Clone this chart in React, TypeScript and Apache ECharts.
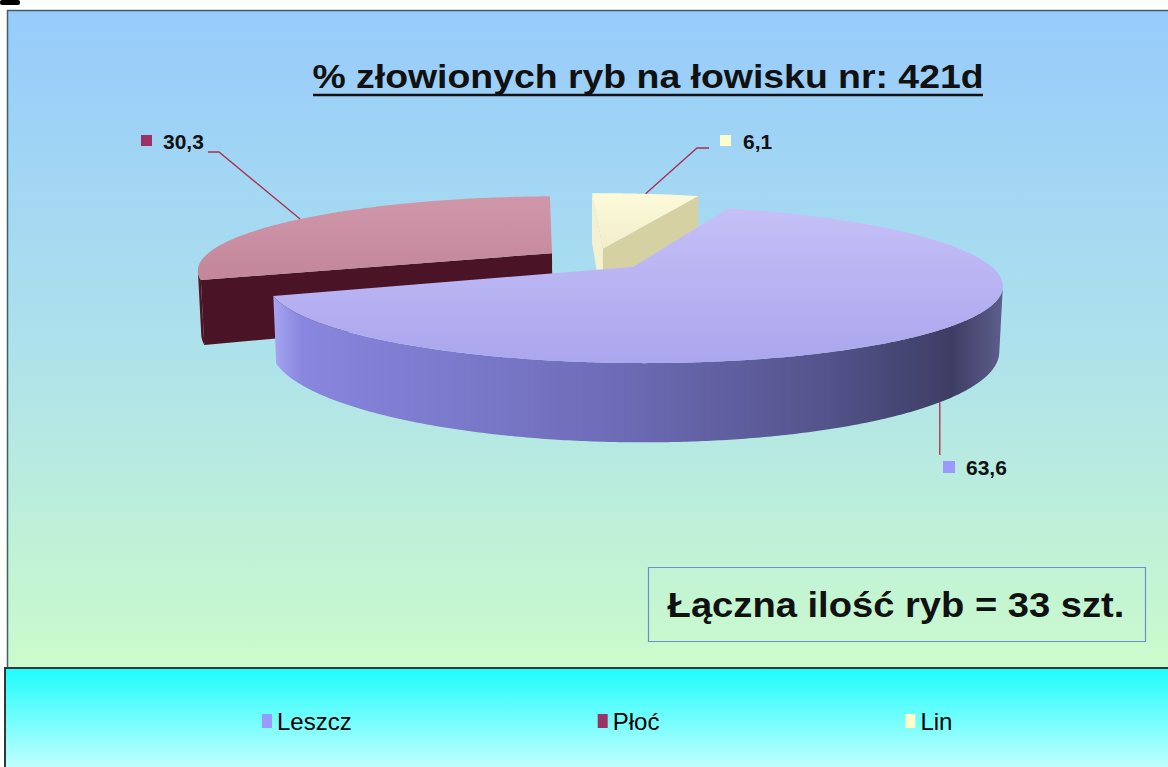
import React, { useEffect, useRef } from "react";
import * as echarts from "echarts";

// ---------- data ----------
const TITLE = "% złowionych ryb na łowisku nr: 421d";
const fishNames = ["Leszcz", "Płoć", "Lin"];
const fishPercent = [63.6, 30.3, 6.1];
const fishTotal = 33;
const totalLabel = `Łączna ilość ryb = ${fishTotal} szt.`;

// ---------- styles ----------
const legendColors = ["#9999FF", "#993366", "#FFFFCC"];
const topColors = [
  ["#C5C0F6", "#ABA6EE"],
  ["#D097AB", "#C3869A"],
  ["#FDFADB", "#F2EECA"],
];
const wallStops: [number, string][][] = [
  [[0, "#A6A4F2"], [0.04, "#8886DE"], [0.45, "#6F6DB9"], [0.75, "#55548D"], [0.93, "#3D3D64"], [1, "#5E5E8C"]],
  [[0, "#5A1A30"], [1, "#46101F"]],
  [[0, "#D9D6AB"], [1, "#CFCB9C"]],
];
// [start cut face, end cut face]
const cutColors = [
  ["#6F6DB9", "#6F6DB9"],
  ["#4A1426", "#4A1426"],
  ["#F4F1D0", "#D5D1A3"],
];
const leaderColor = "#A8304E";

// 3-D camera & geometry (layout)
const CAM = { x0: 595, y0: 259, F: 1575, D: 4.5, elev: 11.8, thick: 0.18, explode: 0.15, rotation: 20 };

// label layout: marker box, text anchor, leader bend points after the slice anchor
const LABEL_LAYOUT = [
  { mx: 943, my: 461, ms: 12, tx: 966, ty: 467, bend: [] as number[][], dropTo: 455, onWall: true },
  { mx: 141, my: 135, ms: 11, tx: 163, ty: 141, bend: [[219, 152], [208, 152]], dropTo: 0, onWall: false },
  { mx: 720, my: 135, ms: 11, tx: 743, ty: 141, bend: [[697, 148], [709, 148]], dropTo: 0, onWall: false },
];

const rad = (d: number) => (d * Math.PI) / 180;
const SE = Math.sin(rad(CAM.elev));
const CE = Math.cos(rad(CAM.elev));

function project(X: number, Y: number, Z: number): number[] {
  const depth = CAM.D + Z * CE - Y * SE;
  return [CAM.x0 + (CAM.F * X) / depth, CAM.y0 - (CAM.F * (Y * CE + Z * SE)) / depth];
}

function lin(x1: number, y1: number, x2: number, y2: number, stops: [number, string][]) {
  return new echarts.graphic.LinearGradient(
    x1, y1, x2, y2,
    stops.map(([offset, color]) => ({ offset, color })),
    true
  );
}

function makeRender(i: number) {
  return (_params: any, api: any) => {
    const value = api.value(0) as number;
    const total = fishPercent.reduce((a, b) => a + b, 0);
    let before = 0;
    for (let j = 0; j < i; j++) before += fishPercent[j];
    const a0 = CAM.rotation + (before / total) * 360;
    const a1 = a0 + (value / total) * 360;
    const mid = (a0 + a1) / 2;
    const Xc = CAM.explode * Math.sin(rad(mid));
    const Zc = CAM.explode * Math.cos(rad(mid));
    const h = CAM.thick;
    const camZ = -CAM.D * CE;

    const rimTop = (a: number) => project(Xc + Math.sin(rad(a)), 0, Zc + Math.cos(rad(a)));
    const rimBot = (a: number) => project(Xc + Math.sin(rad(a)), -h, Zc + Math.cos(rad(a)));
    const cTop = project(Xc, 0, Zc);
    const cBot = project(Xc, -h, Zc);

    const children: any[] = [];

    // cut faces
    const n0 = [-Math.cos(rad(a0)), Math.sin(rad(a0))];
    if (n0[0] * -Xc + n0[1] * (camZ - Zc) > 0) {
      children.push({
        type: "polygon",
        shape: { points: [cTop, rimTop(a0), rimBot(a0), cBot] },
        style: { fill: cutColors[i][0] },
      });
    }
    const n1 = [Math.cos(rad(a1)), -Math.sin(rad(a1))];
    if (n1[0] * -Xc + n1[1] * (camZ - Zc) > 0) {
      children.push({
        type: "polygon",
        shape: { points: [cTop, rimTop(a1), rimBot(a1), cBot] },
        style: { fill: cutColors[i][1] },
      });
    }

    // outer wall (front-facing parts)
    const visible = (a: number) =>
      -Xc * Math.sin(rad(a)) - Zc * Math.cos(rad(a)) - 1 - CAM.D * CE * Math.cos(rad(a)) > 0;
    const step = 0.5;
    const runs: number[][] = [];
    let cur: number[] | null = null;
    for (let a = a0; a <= a1 + 1e-9; a += step) {
      const aa = Math.min(a, a1);
      if (visible(aa)) {
        if (!cur) { cur = []; runs.push(cur); }
        cur.push(aa);
      } else cur = null;
    }
    if (visible(a1) && cur && cur[cur.length - 1] !== a1) cur.push(a1);
    runs.forEach((run) => {
      if (run.length < 2) return;
      const top = run.map(rimTop);
      const bot = run.map(rimBot).reverse();
      const pts = top.concat(bot);
      const xs = pts.map((p) => p[0]);
      const minX = Math.min(...xs), maxX = Math.max(...xs);
      children.push({
        type: "polygon",
        shape: { points: pts },
        style: { fill: lin(minX, 0, maxX, 0, wallStops[i]) },
      });
    });

    // top face
    const rim: number[][] = [];
    for (let a = a0; a < a1; a += step) rim.push(rimTop(a));
    rim.push(rimTop(a1));
    const topPts = [cTop].concat(rim);
    const ys = topPts.map((p) => p[1]);
    children.push({
      type: "polygon",
      shape: { points: topPts },
      style: {
        fill: lin(0, Math.min(...ys), 0, Math.max(...ys), [[0, topColors[i][0]], [1, topColors[i][1]]]),
      },
    });

    // label with leader
    const L = LABEL_LAYOUT[i];
    const anchor = L.onWall ? rimBot(mid) : rimTop(mid);
    const leaderPts = [anchor].concat(L.onWall ? [[anchor[0], L.dropTo]] : L.bend);
    children.push({
      type: "polyline",
      shape: { points: leaderPts },
      style: { stroke: leaderColor, lineWidth: 1.3, fill: "none" },
    });
    children.push({
      type: "rect",
      shape: { x: L.mx, y: L.my, width: L.ms, height: L.ms },
      style: { fill: legendColors[i] },
    });
    children.push({
      type: "text",
      x: L.tx,
      y: L.ty,
      style: {
        text: value.toFixed(1).replace(".", ","),
        fontSize: 21,
        fontWeight: "bold",
        fontFamily: "Liberation Sans, Arial, sans-serif",
        fill: "#111111",
        align: "left",
        verticalAlign: "middle",
      },
    });

    return { type: "group", children };
  };
}

function buildOption(): any {
  const zOrder = [4, 3, 2];
  return {
    animation: false,
    backgroundColor: "#ffffff",
    legend: {
      left: 257,
      top: 704,
      icon: "rect",
      itemWidth: 10,
      itemHeight: 14,
      itemGap: 246,
      selectedMode: false,
      data: fishNames,
      textStyle: { fontSize: 24, fontFamily: "Liberation Sans, Arial, sans-serif", color: "#000" },
    },
    graphic: {
      elements: [
        { type: "rect", z: 0, shape: { x: 0, y: 0, width: 20, height: 5, r: 2 }, style: { fill: "#000" } },
        {
          type: "rect",
          z: 0,
          shape: { x: 7.5, y: 10.5, width: 1170, height: 660 },
          style: {
            fill: new echarts.graphic.LinearGradient(0, 0, 0, 1, [
              { offset: 0, color: "#97CBFB" },
              { offset: 0.5, color: "#ADE1EC" },
              { offset: 1, color: "#CBFBCB" },
            ]),
            stroke: "#3F6068",
            lineWidth: 1.5,
          },
        },
        {
          type: "rect",
          z: 1,
          shape: { x: 5, y: 668, width: 1170, height: 110 },
          style: {
            fill: new echarts.graphic.LinearGradient(0, 0, 0, 1, [
              { offset: 0, color: "#1EFCFC" },
              { offset: 1, color: "#D2FFFF" },
            ]),
            stroke: "#2E3A3A",
            lineWidth: 2,
          },
        },
        {
          type: "text",
          z: 10,
          x: 648,
          y: 77,
          scaleX: 1.1,
          style: {
            text: TITLE,
            fontSize: 34,
            fontWeight: "bold",
            fontFamily: "Liberation Sans, Arial, sans-serif",
            fill: "#111111",
            align: "center",
            verticalAlign: "middle",
            textAlign: "center",
            textVerticalAlign: "middle",
          },
        },
        {
          type: "line",
          z: 10,
          shape: { x1: 313, y1: 95, x2: 983, y2: 95 },
          style: { stroke: "#111111", lineWidth: 2.5 },
        },
        {
          type: "rect",
          z: 10,
          shape: { x: 648.5, y: 567.5, width: 497, height: 74 },
          style: { fill: "rgba(0,0,0,0)", stroke: "#6B8FCF", lineWidth: 1.2 },
        },
        {
          type: "text",
          z: 10,
          x: 896,
          y: 605,
          scaleX: 1.09,
          style: {
            text: totalLabel,
            fontSize: 35,
            fontWeight: "bold",
            fontFamily: "Liberation Sans, Arial, sans-serif",
            fill: "#111111",
            align: "center",
            verticalAlign: "middle",
            textAlign: "center",
            textVerticalAlign: "middle",
          },
        },
      ],
    },
    series: fishNames.map((name, i) => ({
      type: "custom",
      name,
      coordinateSystem: "none",
      silent: true,
      z: zOrder[i],
      itemStyle: { color: legendColors[i] },
      data: [[fishPercent[i]]],
      renderItem: makeRender(i),
    })),
  };
}

export default function App() {
  const ref = useRef<HTMLDivElement>(null);
  useEffect(() => {
    if (!ref.current) return;
    const chart = echarts.init(ref.current, null, { renderer: "svg" });
    chart.setOption(buildOption());
    return () => chart.dispose();
  }, []);
  return (
    <div
      ref={ref}
      style={{ position: "fixed", left: 0, top: 0, width: 1168, height: 767 }}
    />
  );
}
